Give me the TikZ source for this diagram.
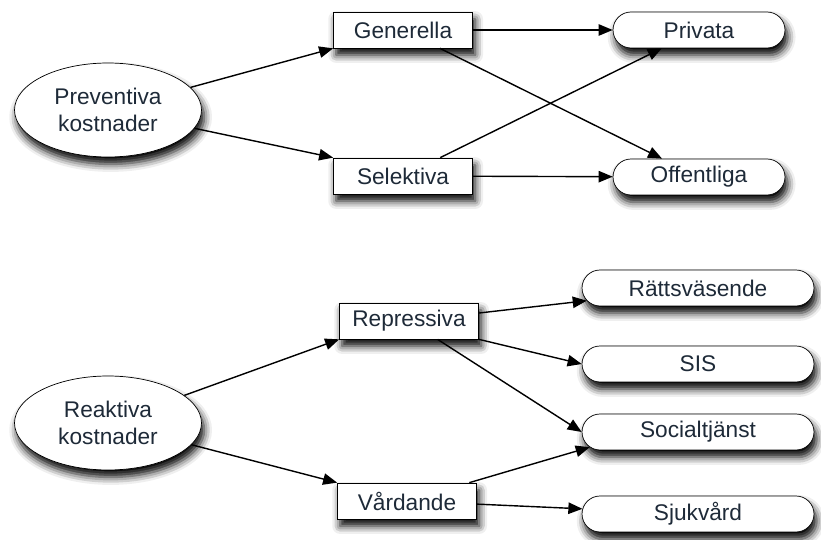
\documentclass[tikz,border=0pt]{standalone}
\usepackage{fontspec}
\setmainfont{Liberation Sans}
\usepackage{tikz}
\usetikzlibrary{arrows.meta,shapes.geometric,shapes.misc,shadows.blur}
\definecolor{Label}{RGB}{30, 42, 56}

\tikzset{
    skugga/.style={blur shadow={shadow xshift=1.5pt, shadow yshift=-4pt,
        shadow blur radius=4.5pt, shadow opacity=100}},
    kost/.style={ellipse, draw, fill=white, minimum width=3.74cm, minimum height=1.88cm,
        inner sep=0pt, align=center, text=Label, font=\fontsize{12.9pt}{15.5pt}\selectfont, skugga},
    typ/.style={rectangle, draw, fill=white, minimum width=2.78cm, minimum height=0.72cm,
        inner sep=0pt, text=Label, font=\fontsize{12.9pt}{15pt}\selectfont, skugga},
    mottagare/.style={rounded rectangle, draw, fill=white, minimum height=0.72cm,
        inner sep=0pt, text=Label, font=\fontsize{12.9pt}{15pt}\selectfont, skugga},
    pil/.style={line width=0.8pt, -{Triangle[length=8pt, width=6.5pt]}},
}

\begin{document}
\begin{tikzpicture}[x=0.02cm, y=-0.02cm]
    %% Background
    \useasboundingbox (0,0) rectangle (821,540);

    %% Preventiva
    \node[kost] (prev) at (108,110) {Preventiva\\kostnader};
    \node[typ] (gen) at (403,30) {Generella};
    \node[typ] (sel) at (403,176) {Selektiva};
    \node[mottagare, minimum width=3.44cm] (priv) at (699,30) {Privata};
    \node[mottagare, minimum width=3.44cm] (off) at (699,177) {Offentliga};

    \draw[pil] (prev) -- (gen.south west);
    \draw[pil] (prev) -- (sel.north west);
    \draw[pil] (gen) -- (priv);
    \draw[pil] (gen) -- (off);
    \draw[pil] (sel) -- (priv);
    \draw[pil] (sel) -- (off);

    %% Reaktiva
    \node[kost] (reak) at (108,423) {Reaktiva\\kostnader};
    \node[typ] (rep) at (409,321) {Repressiva};
    \node[typ] (vard) at (407,501) {Vårdande};
    \node[mottagare, minimum width=4.64cm] (ratt) at (698,288) {Rättsväsende};
    \node[mottagare, minimum width=4.64cm] (sis) at (698,364) {SIS};
    \node[mottagare, minimum width=4.64cm] (soc) at (698,432) {Socialtjänst};
    \node[mottagare, minimum width=4.64cm] (sjuk) at (698,514) {Sjukvård};

    \draw[pil] (reak) -- (rep.south west);
    \draw[pil] (reak) -- (vard.north west);
    \draw[pil] (rep) -- (ratt);
    \draw[pil] (rep.south east) -- (sis.west);
    \draw[pil] (rep) -- (soc.west);
    \draw[pil] (vard) -- (soc.188);
    \draw[pil] (vard) -- (sjuk);
\end{tikzpicture}
\end{document}
